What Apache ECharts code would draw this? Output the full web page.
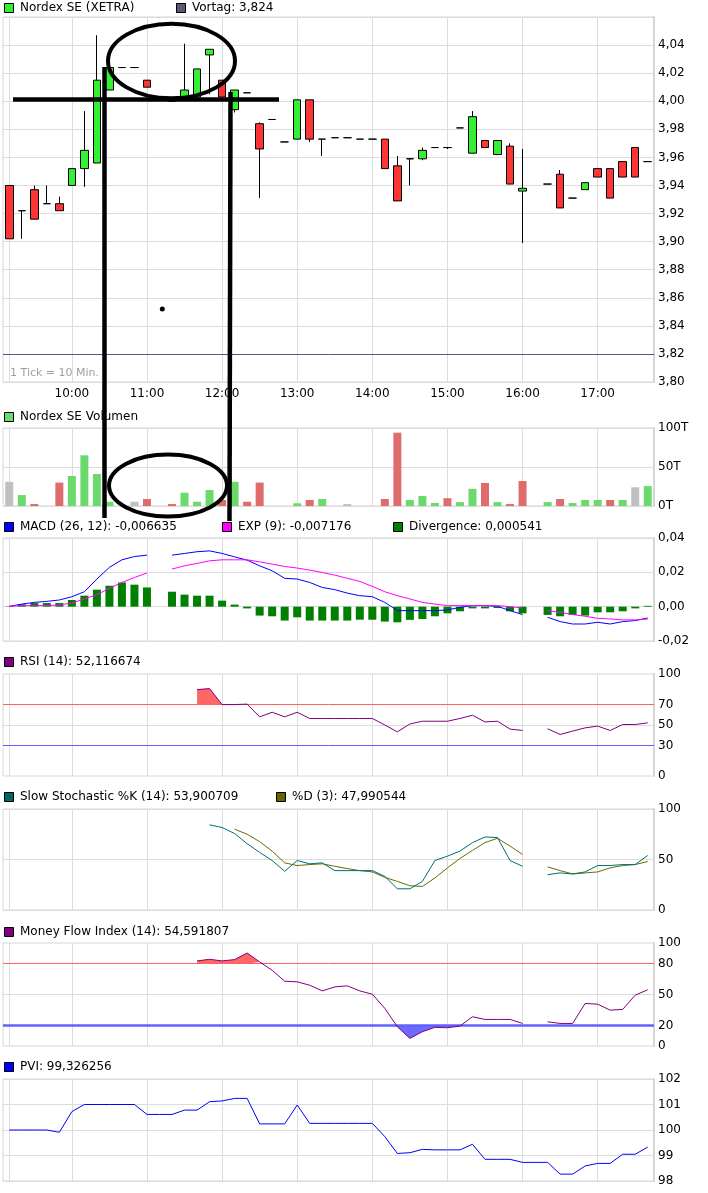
<!DOCTYPE html>
<html><head><meta charset="utf-8">
<script src="https://cdn.jsdelivr.net/npm/echarts@6/dist/echarts.min.js"></script>
<style>html,body{margin:0;padding:0;background:#fff}#c{width:708px;height:1193px}</style>
</head><body><div id="c"></div>
<script>
// ---------- data ----------
const times = ['09:10','09:20','09:30','09:40','09:50','10:00','10:10','10:20','10:30','10:40','10:50',
 '11:00','11:10','11:20','11:30','11:40','11:50','12:00','12:10','12:20','12:30','12:40','12:50',
 '13:00','13:10','13:20','13:30','13:40','13:50','14:00','14:10','14:20','14:30','14:40','14:50',
 '15:00','15:10','15:20','15:30','15:40','15:50','16:00','16:10','16:20','16:30','16:40','16:50',
 '17:00','17:10','17:20','17:30','17:40'];
const gridTimes = ['09:10','10:00','11:00','12:00','13:00','14:00','15:00','16:00','17:00'];
const labelTimes = ['10:00','11:00','12:00','13:00','14:00','15:00','16:00','17:00'];

const open  = [3.940,3.922,3.937,3.927,3.927,3.940,3.952,3.956,4.008,4.024,4.024,4.015,null,4.002,4.003,4.003,4.033,4.015,3.994,4.006,3.984,3.987,3.971,3.973,4.001,3.973,3.974,3.974,3.973,3.973,3.973,3.954,3.959,3.959,3.967,3.967,3.981,3.963,3.972,3.962,3.968,3.936,null,3.941,3.948,3.931,3.937,3.952,3.952,3.957,3.967,3.957];
const close = [3.902,3.922,3.916,3.927,3.922,3.952,3.965,4.015,4.024,4.024,4.024,4.010,null,4.000,4.008,4.023,4.037,4.003,4.008,4.006,3.966,3.987,3.971,4.001,3.973,3.973,3.974,3.974,3.973,3.973,3.952,3.929,3.959,3.965,3.967,3.967,3.981,3.989,3.967,3.972,3.941,3.938,null,3.941,3.924,3.931,3.942,3.946,3.931,3.946,3.946,3.957];
const low   = [3.902,3.902,3.916,3.927,3.922,3.940,3.939,3.956,4.008,4.024,4.024,4.010,null,4.000,4.003,4.003,4.005,4.003,3.992,4.006,3.931,3.987,3.971,3.973,3.971,3.961,3.974,3.974,3.973,3.973,3.952,3.929,3.940,3.958,3.967,3.966,3.981,3.963,3.967,3.962,3.941,3.899,null,3.941,3.924,3.931,3.937,3.946,3.931,3.946,3.946,3.957];
const high  = [3.940,3.922,3.940,3.940,3.932,3.952,3.993,4.047,4.024,4.024,4.024,4.015,null,4.002,4.041,4.023,4.037,4.015,4.008,4.006,3.985,3.987,3.971,4.001,4.001,3.973,3.974,3.974,3.973,3.973,3.973,3.961,3.959,3.967,3.967,3.967,3.981,3.993,3.972,3.972,3.970,3.966,null,3.941,3.951,3.931,3.942,3.952,3.952,3.957,3.967,3.957];
const previousClose = 3.824;

const volume = [31,14,2.5,0,30,38.5,65,41,5.5,0,5.5,9,null,2.5,17,5.5,20.5,7.7,31,5.5,30,0,0,3.5,7.7,9,0,2.5,0,0,9,94,7.7,12.8,3.8,10,5,22,29.5,5,2.5,32,null,5,9,3.8,7.7,7.7,7.7,7.7,24,25.5];
const volumeDir = ['n','u','d','u','d','u','u','u','u','u','n','d',null,'d','u','u','u','d','u','d','d','u','u','u','d','u','u','n','u','u','d','d','u','u','u','d','u','u','d','u','d','d',null,'u','d','u','u','u','d','u','n','u'];

const macd = [0.0002,0.0015,0.0025,0.0031,0.0039,0.0058,0.0087,0.0161,0.0229,0.0273,0.0292,0.0300,null,0.0300,0.0310,0.0320,0.0325,0.0310,0.0290,0.0271,0.0238,0.0209,0.0165,0.0161,0.0141,0.0112,0.0099,0.0079,0.0064,0.0058,0.0025,-0.0023,-0.0023,-0.0023,-0.0023,-0.0019,-0.0004,0.0006,0.0006,0.0002,-0.0023,-0.0046,null,-0.0062,-0.0087,-0.0101,-0.0101,-0.0091,-0.0101,-0.0087,-0.0081,-0.0066];
const expSignal = [0.0002,0.0006,0.0006,0.0006,0.0010,0.0021,0.0045,0.0070,0.0107,0.0141,0.0170,0.0196,null,0.0219,0.0238,0.0252,0.0267,0.0273,0.0273,0.0273,0.0261,0.0248,0.0234,0.0225,0.0213,0.0199,0.0184,0.0165,0.0147,0.0118,0.0087,0.0064,0.0045,0.0025,0.0015,0.0006,0.0006,0.0006,0.0006,0.0006,0.0000,-0.0008,null,-0.0023,-0.0033,-0.0046,-0.0056,-0.0068,-0.0072,-0.0077,-0.0077,-0.0072];
const divergence = [0.0002,0.0014,0.0021,0.0021,0.0021,0.0039,0.0064,0.0099,0.0122,0.0141,0.0128,0.0112,null,0.0087,0.0070,0.0064,0.0064,0.0035,0.0012,-0.0010,-0.0052,-0.0056,-0.0081,-0.0062,-0.0081,-0.0081,-0.0081,-0.0081,-0.0076,-0.0076,-0.0087,-0.0091,-0.0077,-0.0072,-0.0056,-0.0039,-0.0027,-0.0010,-0.0010,-0.0008,-0.0027,-0.0039,null,-0.0048,-0.0056,-0.0048,-0.0052,-0.0033,-0.0033,-0.0027,-0.0010,0.0005];

const rsi = [null,null,null,null,null,null,null,null,null,null,null,null,null,null,null,
 84.7,85.7,70,70,70.5,58,62.5,58,62.5,56.4,56.4,56.4,56.4,56.4,56.4,50,43.3,51,53.7,53.7,53.7,56.4,59.6,53,53.7,46,44.6,
 null,46.3,40.7,44,47.2,48.9,44.6,50.5,50.5,52.1];
const stochK = [null,null,null,null,null,null,null,null,null,null,null,null,null,null,null,null,
 84.3,81.7,75.7,65.7,57,49,38.3,49,45.7,46.7,39,39,39,39,33.3,21,21,28.3,49,53.3,58.3,66.7,72.3,71.7,49,43.3,
 null,35,36.7,35.7,37.7,44,44,45,45,54];
const stochD = [null,null,null,null,null,null,null,null,null,null,null,null,null,null,null,null,null,null,
 80,75,67.7,58.3,46.7,44,45,45.7,43.3,41,39,37.7,32.3,28.3,24,23.3,31.7,41.7,51,59,66.7,71,63.3,55,
 null,42.7,39,35.7,36.7,37.7,41.7,44,45,48];
const mfi = [null,null,null,null,null,null,null,null,null,null,null,null,null,null,null,
 82.6,84.2,82.6,83.9,90.3,81.6,73.5,62.9,62.3,59,53.5,57.4,58.4,53.5,50.3,36.5,18.7,7.4,13.9,18.1,17.7,19.4,28.4,25.8,25.8,25.8,21.9,
 null,23.5,21.9,21.9,41.3,40.6,34.8,35.5,49.4,54.6];
const pvi = [100,100,100,100,99.91,100.72,101,101,101,101,101,100.61,100.61,100.61,100.78,100.78,101.11,101.14,101.24,101.24,
 100.24,100.24,100.24,100.98,100.26,100.26,100.26,100.26,100.26,100.26,99.74,99.08,99.11,99.24,99.22,99.22,99.22,99.44,98.85,98.85,
 98.85,98.73,98.73,98.73,98.27,98.27,98.59,98.69,98.69,99.05,99.05,99.33];

// ---------- helpers ----------
const FONT = 'DejaVu Sans';
const toMin = t => { const p = t.split(':'); return (+p[0]) * 60 + (+p[1]); };
const xs = times.map(toMin);
const fmtTime = v => Math.floor(v / 60) + ':' + String(v % 60).padStart(2, '0');
const fmtNum = d => v => (Math.abs(v) < 1e-9 ? 0 : v).toFixed(d).replace('.', ',');
const lineData = arr => arr.map((v, i) => [xs[i], v == null ? '-' : v]);
const partData = (arr, test) => arr.map((v, i) => [xs[i], (v != null && test(v)) ? v : '-']);

const candleData = [];
times.forEach((t, i) => { if (open[i] != null) candleData.push([xs[i], open[i], close[i], low[i], high[i]]); });
const volColors = { u: '#6cd96c', d: '#e06b6b', n: '#c0c0c0' };
const volData = [];
times.forEach((t, i) => { if (volume[i] != null && volume[i] > 0) volData.push({ value: [xs[i], volume[i]], itemStyle: { color: volColors[volumeDir[i]] } }); });
const divData = [];
times.forEach((t, i) => { if (divergence[i] != null) divData.push([xs[i], divergence[i]]); });

const grids = [
  { top: 17, height: 365 }, { top: 428, height: 78 }, { top: 538, height: 103 },
  { top: 674, height: 102 }, { top: 809, height: 101 }, { top: 943, height: 103 }, { top: 1079, height: 102 }
].map(g => Object.assign({ left: 3, right: 54, show: true, borderColor: '#d6d6d6', borderWidth: 1, backgroundColor: '#fff', containLabel: false, outerBoundsMode: 'none' }, g));

const gridLineColor = '#dcdcdc';
const xAxes = grids.map((g, i) => ({
  type: 'value', gridIndex: i, min: 545, max: 1065,
  axisLine: { show: false },
  axisTick: { show: false, customValues: gridTimes.map(toMin) },
  splitLine: { show: true, lineStyle: { color: gridLineColor, width: 1 } },
  axisLabel: { show: i === 0, customValues: labelTimes.map(toMin), formatter: fmtTime, color: '#000', fontSize: 12, fontFamily: FONT, margin: 6 }
}));

const yLabel = (extra) => Object.assign({ color: '#000', fontSize: 12, fontFamily: FONT, margin: 4 }, extra);
const yBase = (i, extra) => Object.assign({
  type: 'value', gridIndex: i, position: 'right',
  axisLine: { show: true, lineStyle: { color: '#d6d6d6', width: 2 } },
  axisTick: { show: false },
  splitLine: { show: true, lineStyle: { color: gridLineColor, width: 1 } }
}, extra);

const yAxes = [
  yBase(0, { min: 3.80, max: 4.06, interval: 0.02, axisLabel: yLabel({ formatter: v => v > 4.05 ? '' : fmtNum(2)(v) }) }),
  yBase(1, { min: 0, max: 100, interval: 50, axisLabel: yLabel({ formatter: v => v + 'T' }) }),
  yBase(2, { min: -0.02, max: 0.04, interval: 0.02, axisLabel: yLabel({ formatter: fmtNum(2) }) }),
  yBase(3, { min: 0, max: 100, axisTick: { show: false, customValues: [50] },
    axisLabel: yLabel({ customValues: [0, 30, 50, 70, 100], color: v => v === 70 ? '#ff5a5a' : (v === 30 ? '#5a5aff' : '#000') }) }),
  yBase(4, { min: 0, max: 100, interval: 50, axisLabel: yLabel({}) }),
  yBase(5, { min: 0, max: 100, axisTick: { show: false, customValues: [50] },
    axisLabel: yLabel({ customValues: [0, 20, 50, 80, 100], color: v => v === 80 ? '#ff5a5a' : (v === 20 ? '#5a5aff' : '#000') }) }),
  yBase(6, { min: 98, max: 102, interval: 1, axisLabel: yLabel({}) })
];

const line = (gi, data, color, extra) => Object.assign({
  type: 'line', xAxisIndex: gi, yAxisIndex: gi, data: data, showSymbol: false, symbol: 'none',
  connectNulls: false, lineStyle: { color: color, width: 1 }, itemStyle: { color: color }, z: 5
}, extra);
const hLine = (val, color, w) => ({ yAxis: val, lineStyle: { color: color, width: w, type: 'solid' } });
const fillArea = (gi, data, color, origin) => ({
  type: 'line', xAxisIndex: gi, yAxisIndex: gi, data: data, showSymbol: false, symbol: 'none',
  connectNulls: false, lineStyle: { width: 0, opacity: 0 }, areaStyle: { color: color, opacity: 1, origin: origin }, z: 3
});

const series = [
  { type: 'candlestick', xAxisIndex: 0, yAxisIndex: 0, data: candleData, encode: { x: 0, y: [1, 2, 3, 4] },
    barWidth: 8,
    itemStyle: { color: '#33f033', color0: '#ff3535', borderColor: '#000', borderColor0: '#000', borderColorDoji: '#000', borderWidth: 1 },
    markLine: { symbol: 'none', silent: true, label: { show: false }, data: [hLine(previousClose, '#505a85', 1)] }, z: 5 },
  { type: 'bar', xAxisIndex: 1, yAxisIndex: 1, data: volData, barWidth: 8 },
  { type: 'bar', xAxisIndex: 2, yAxisIndex: 2, data: divData, barWidth: 8, itemStyle: { color: '#008000' }, z: 2 },
  line(2, lineData(macd), '#0000ff'),
  line(2, lineData(expSignal), '#ff00ff'),
  fillArea(3, partData(rsi, v => v >= 70), '#ff6666', 70),
  line(3, lineData(rsi), '#800080', { markLine: { symbol: 'none', silent: true, label: { show: false }, data: [hLine(70, '#ff6060', 1), hLine(30, '#6060ff', 1)] } }),
  line(4, lineData(stochD), '#6b6b00'),
  line(4, lineData(stochK), '#007070'),
  fillArea(5, partData(mfi, v => v >= 80), '#ff6666', 80),
  fillArea(5, partData(mfi, v => v <= 20), '#6b6bff', 20),
  line(5, lineData(mfi), '#800080', { markLine: { symbol: 'none', silent: true, label: { show: false }, data: [hLine(80, '#ff6060', 1), hLine(20, '#6060ff', 2.5)] } }),
  line(6, lineData(pvi), '#0000ff')
];

// ---------- legends / texts ----------
const legendItems = [
  [4, 8, '#33f033', 'Nordex SE (XETRA)'], [176, 8, '#5a5a72', 'Vortag: 3,824'],
  [4, 417, '#6cd96c', 'Nordex SE Volumen'],
  [4, 527, '#0000ff', 'MACD (26, 12): -0,006635'], [222, 527, '#ff00ff', 'EXP (9): -0,007176'], [393, 527, '#008000', 'Divergence: 0,000541'],
  [4, 662, '#800080', 'RSI (14): 52,116674'],
  [4, 797, '#006666', 'Slow Stochastic %K (14): 53,900709'], [276, 797, '#666600', '%D (3): 47,990544'],
  [4, 932, '#800080', 'Money Flow Index (14): 54,591807'],
  [4, 1067, '#0000ff', 'PVI: 99,326256']
];
const graphics = [];
legendItems.forEach(([x, y, c, t]) => {
  graphics.push({ type: 'rect', silent: true, shape: { x: x + 0.5, y: y - 4.5, width: 9, height: 9 }, style: { fill: c, stroke: '#000', lineWidth: 1 } });
  graphics.push({ type: 'text', silent: true, style: { x: x + 16, y: y, text: t, fill: '#000', font: '12px "' + FONT + '"', align: 'left', verticalAlign: 'middle' } });
});
graphics.push({ type: 'text', silent: true, style: { x: 10, y: 373, text: '1 Tick = 10 Min.', fill: '#a0a0a0', font: '11px "' + FONT + '"', align: 'left', verticalAlign: 'middle' } });

// hand-drawn annotations (overlay)
const ink = { stroke: '#000', lineWidth: 4, fill: 'none' };
graphics.push(
  { type: 'ellipse', silent: true, z: 100, shape: { cx: 171.5, cy: 61, rx: 63.5, ry: 37.3 }, style: Object.assign({}, ink) },
  { type: 'line', silent: true, z: 100, shape: { x1: 13, y1: 99.5, x2: 279, y2: 99.5 }, style: Object.assign({}, ink, { lineWidth: 4.5 }) },
  { type: 'line', silent: true, z: 100, shape: { x1: 104.5, y1: 67, x2: 104.5, y2: 518 }, style: Object.assign({}, ink, { lineWidth: 4.5 }) },
  { type: 'line', silent: true, z: 100, shape: { x1: 230.5, y1: 92, x2: 229.5, y2: 521 }, style: Object.assign({}, ink, { lineWidth: 4.5 }) },
  { type: 'ellipse', silent: true, z: 100, shape: { cx: 168, cy: 485.6, rx: 59, ry: 31 }, style: Object.assign({}, ink) },
  { type: 'circle', silent: true, z: 100, shape: { cx: 162.3, cy: 309, r: 2.5 }, style: { fill: '#000' } }
);

const chart = echarts.init(document.getElementById('c'), null, { renderer: 'canvas' });
chart.setOption({
  animation: false,
  backgroundColor: '#fff',
  grid: grids, xAxis: xAxes, yAxis: yAxes, series: series,
  graphic: { elements: graphics }
});
</script>
</body></html>
